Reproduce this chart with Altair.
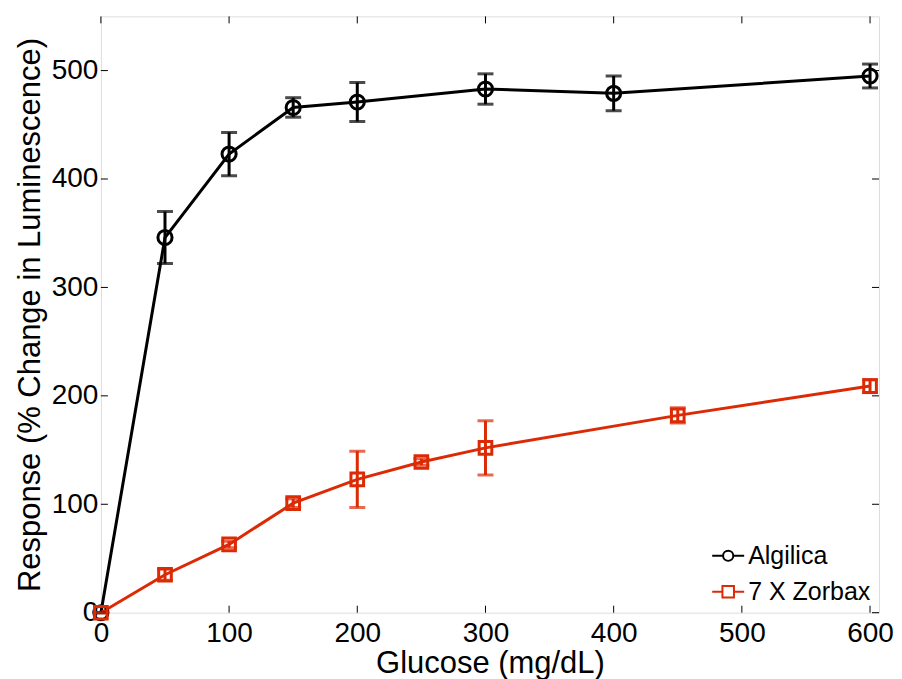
import altair as alt
import pandas as pd

# Algilica
alg_x = [0, 50, 100, 150, 200, 300, 400, 600]
alg_y = [0, 346, 423, 466, 471, 483, 479, 495]
alg_e = [0, 24, 20, 9, 18, 14, 16, 11]

# 7 X Zorbax
zor_x = [0, 50, 100, 150, 200, 250, 300, 450, 600]
zor_y = [0, 35, 63, 101, 123, 139, 152, 182, 209]
zor_e = [0, 5, 3, 4, 26, 3, 25, 7, 6]

series_names = ["Algilica", "7 X Zorbax"]
series_colors = ["#000000", "#dc2a05"]

x_ticks = [0, 100, 200, 300, 400, 500, 600]
y_ticks = [0, 100, 200, 300, 400, 500]

rows = []
for x, y, e in zip(alg_x, alg_y, alg_e):
    rows.append({"series": series_names[0], "x": x, "y": y, "lo": y - e, "hi": y + e})
for x, y, e in zip(zor_x, zor_y, zor_e):
    rows.append({"series": series_names[1], "x": x, "y": y, "lo": y - e, "hi": y + e})
df = pd.DataFrame(rows)

W, H = 779, 597
XD = [0, 607]
YD = [0, 550]
FONT = "Liberation Sans"

xs = alt.Scale(domain=XD, nice=False, zero=False)
ys = alt.Scale(domain=YD, nice=False)
color = alt.Color("series:N", scale=alt.Scale(domain=series_names, range=series_colors), legend=None)

base = alt.Chart(df)

line = base.mark_line(strokeWidth=3).encode(
    x=alt.X("x:Q", scale=xs, axis=alt.Axis(values=x_ticks, title="Glucose (mg/dL)", grid=False,
                                            ticks=False, domain=False, labelFontSize=28,
                                            titleFontSize=31, titleFontWeight="normal",
                                            labelPadding=7, titlePadding=1, labelColor="#000",
                                            titleColor="#000", labelFlush=False)),
    y=alt.Y("y:Q", scale=ys, axis=alt.Axis(values=y_ticks, title="Response (% Change in Luminescence)",
                                            grid=False, ticks=False, domain=False, labelFontSize=28,
                                            titleFontSize=31, titleFontWeight="normal",
                                            labelPadding=3, titlePadding=5, labelColor="#000",
                                            titleColor="#000", labelFlush=False)),
    color=color,
    detail="series:N",
)

err = base.mark_rule(strokeWidth=3).encode(
    x=alt.X("x:Q", scale=xs), y=alt.Y("lo:Q", scale=ys), y2="hi:Q", color=color)
cap_lo = base.mark_tick(thickness=3, size=16, orient="horizontal").encode(
    x=alt.X("x:Q", scale=xs), y=alt.Y("lo:Q", scale=ys), color=color)
cap_hi = base.mark_tick(thickness=3, size=16, orient="horizontal").encode(
    x=alt.X("x:Q", scale=xs), y=alt.Y("hi:Q", scale=ys), color=color)

pts = base.mark_point(filled=False, strokeWidth=3, fill="white", fillOpacity=0).encode(
    x=alt.X("x:Q", scale=xs), y=alt.Y("y:Q", scale=ys), color=color,
    shape=alt.Shape("series:N", scale=alt.Scale(domain=series_names, range=["circle", "square"]), legend=None),
    size=alt.Size("series:N", scale=alt.Scale(domain=series_names, range=[200, 160]), legend=None),
)

legend_paths = [
    "M-1,0L-0.32,0M0.32,0L1,0M-0.32,0A0.32,0.32 0 1,0 0.32,0A0.32,0.32 0 1,0 -0.32,0",
    "M-1,0L-0.36,0M0.36,0L1,0M-0.36,-0.36L0.36,-0.36L0.36,0.36L-0.36,0.36Z",
]
leg_props = dict(title=None, orient="bottom-right", labelFontSize=25, labelFont=FONT,
                 symbolSize=1024, symbolStrokeWidth=2, labelColor="#000",
                 symbolOpacity=1, offset=8, rowPadding=6, labelOffset=3,
                 symbolFillColor="white", padding=0)
leg = base.transform_filter(alt.datum.x == 0).transform_calculate(name="datum.series").mark_point(
    filled=False, opacity=0).encode(
    x=alt.X("x:Q", scale=xs), y=alt.Y("y:Q", scale=ys),
    color=alt.Color("name:N", scale=alt.Scale(domain=series_names, range=series_colors),
                    legend=alt.Legend(**leg_props)),
    shape=alt.Shape("name:N", scale=alt.Scale(domain=series_names, range=legend_paths),
                    legend=alt.Legend(**leg_props)),
)

tick_y = pd.DataFrame({"v": y_ticks})
tick_x = pd.DataFrame({"v": x_ticks})
tl = alt.Chart(tick_y).mark_rule(color="#000", strokeWidth=1).encode(
    y=alt.Y("v:Q", scale=ys), x=alt.value(0), x2=alt.value(7))
tr = alt.Chart(tick_y).mark_rule(color="#000", strokeWidth=1).encode(
    y=alt.Y("v:Q", scale=ys), x=alt.value(W - 7), x2=alt.value(W))
tb = alt.Chart(tick_x).mark_rule(color="#000", strokeWidth=1).encode(
    x=alt.X("v:Q", scale=xs), y=alt.value(H), y2=alt.value(H - 7))
tt = alt.Chart(tick_x).mark_rule(color="#000", strokeWidth=1).encode(
    x=alt.X("v:Q", scale=xs), y=alt.value(0), y2=alt.value(7))

chart = alt.layer(tl, tr, tb, tt, line, err, cap_lo, cap_hi, pts, leg).resolve_scale(
    shape="independent", size="independent", color="independent"
).properties(
    width=W, height=H, padding={"left": 6, "top": 7, "right": 0, "bottom": 0}
).configure_view(stroke="#000", strokeWidth=1.5).configure(
    font=FONT
).configure_axis(labelFont=FONT, titleFont=FONT)

chart.save("out.html", embed_options={"renderer": "svg", "actions": False})
